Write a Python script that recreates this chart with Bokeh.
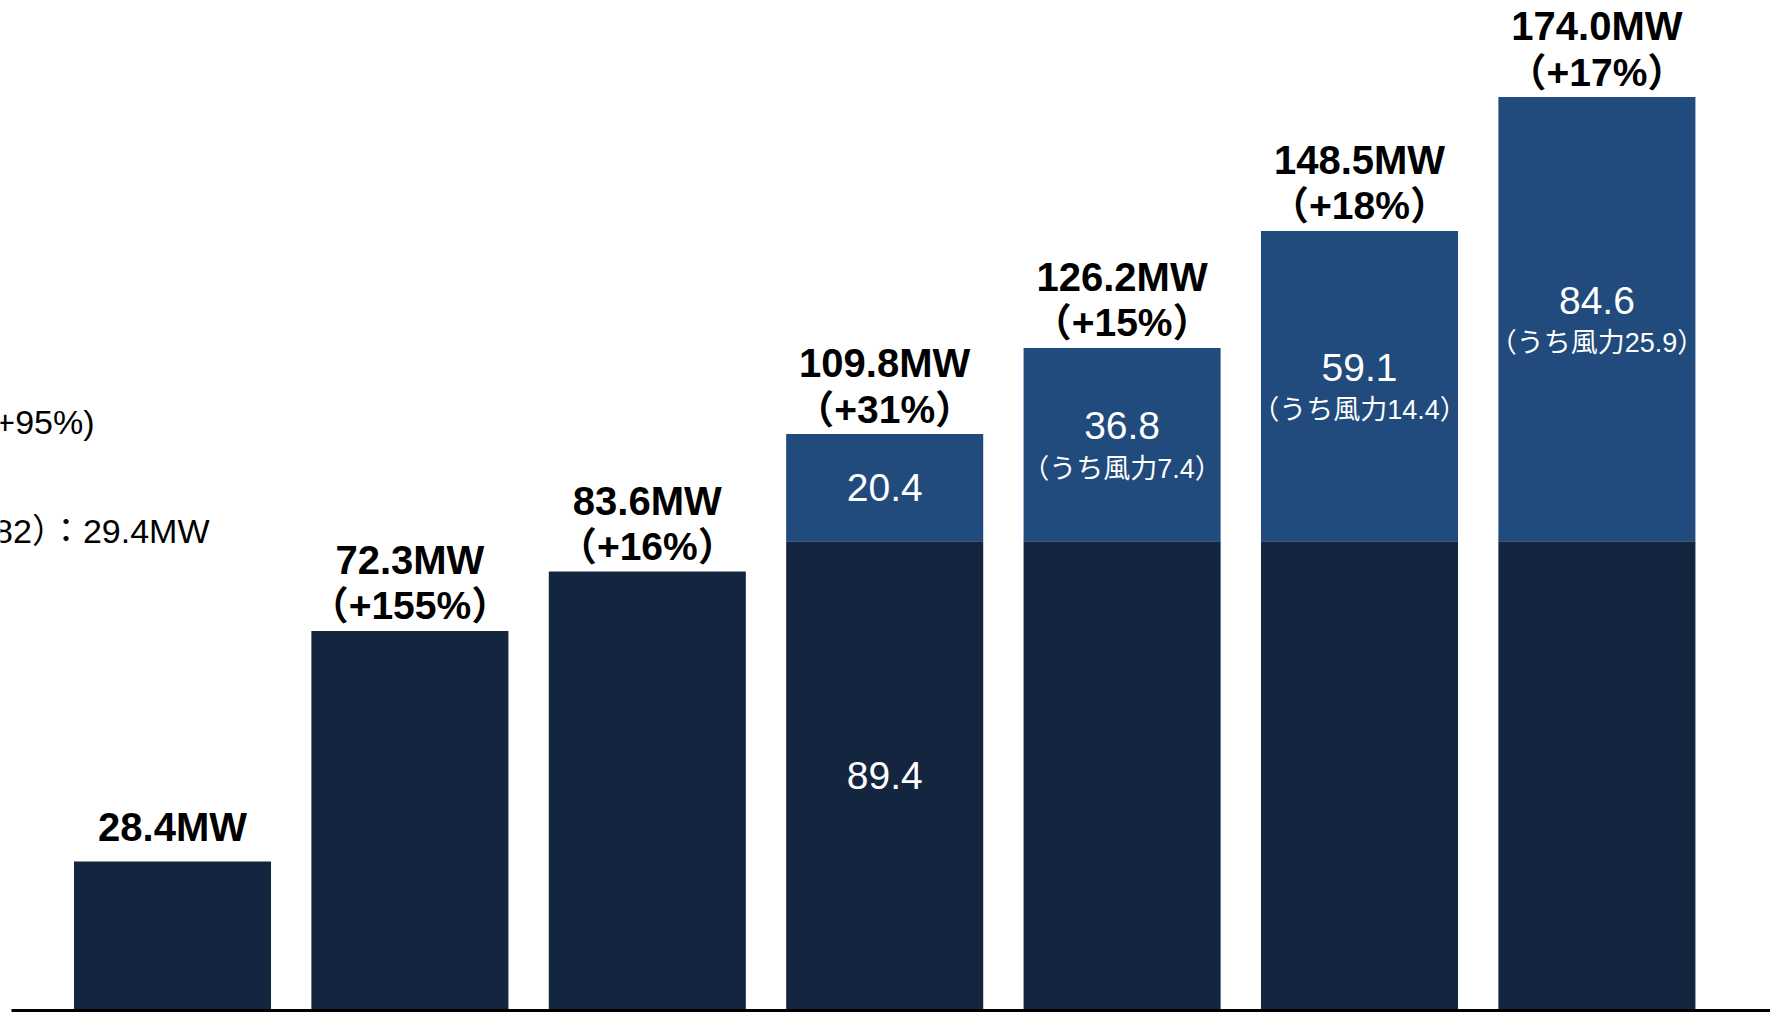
from bokeh.plotting import figure
from bokeh.models import Range1d, Label
from bokeh.core.properties import value
from bokeh.embed import file_html
from bokeh.resources import INLINE

# ---------------- data ----------------
categories = ["1", "2", "3", "4", "5", "6", "7"]
base_mw = [28.4, 72.3, 83.6, 89.4, 89.4, 89.4, 89.4]
added_mw = [0.0, 0.0, 0.0, 20.4, 36.8, 59.1, 84.6]
wind_mw = [None, None, None, None, 7.4, 14.4, 25.9]
growth_pct = [None, 155, 16, 31, 15, 18, 17]
prev_growth_text = "+95%)"
prev_total_text = "82）：29.4MW"

# ---------------- layout ----------------
W, H = 1770, 1012
px_per_cat = 237.4
first_center_px = 172.0
baseline_px = 1010.0
px_per_mw = 5.25
bar_width = 0.83

DARK = "#13253F"
BLUE = "#214A7D"
FONT = "'Liberation Sans', 'Noto Sans CJK JP'"

x_start = -first_center_px / px_per_cat
x_end = (W - first_center_px) / px_per_cat
y_start = -(H - baseline_px) / px_per_mw
y_end = baseline_px / px_per_mw

p = figure(width=W, height=H, x_range=Range1d(x_start, x_end), y_range=Range1d(y_start, y_end),
           output_backend="svg", toolbar_location=None, min_border=0,
           x_axis_location=None, y_axis_location=None)
p.grid.visible = False
p.outline_line_color = None
p.background_fill_color = "white"
p.border_fill_color = "white"

xs = list(range(len(categories)))
totals = [b + a for b, a in zip(base_mw, added_mw)]

p.vbar(x=xs, bottom=0, top=base_mw, width=bar_width, fill_color=DARK, line_color=None)
sx = [x for x, a in zip(xs, added_mw) if a > 0]
sb = [b for b, a in zip(base_mw, added_mw) if a > 0]
st = [b + a for b, a in zip(base_mw, added_mw) if a > 0]
p.vbar(x=sx, bottom=sb, top=st, width=bar_width, fill_color=BLUE, line_color=None)

# baseline
p.segment(x0=[x_start + 11 / px_per_cat], y0=[0], x1=[x_end], y1=[0], line_color="black", line_width=3)

# total labels
two = [i for i, g in enumerate(growth_pct) if g is not None]
one = [i for i, g in enumerate(growth_pct) if g is None]
p.text(x=[xs[i] for i in one], y=[totals[i] for i in one], text=[f"{totals[i]:.1f}MW" for i in one],
       text_font=value(FONT), text_font_style="bold", text_font_size="40px", text_color="black",
       text_align="center", text_baseline="middle", y_offset=-34)
p.text(x=[xs[i] for i in two], y=[totals[i] for i in two], text=[f"{totals[i]:.1f}MW" for i in two],
       text_font=value(FONT), text_font_style="bold", text_font_size="40px", text_color="black",
       text_align="center", text_baseline="middle", y_offset=-71)
p.text(x=[xs[i] for i in two], y=[totals[i] for i in two], text=[f"（+{growth_pct[i]}%）" for i in two],
       text_font=value(FONT), text_font_style="bold", text_font_size="39px", text_color="black",
       text_align="center", text_baseline="middle", y_offset=-25)

# inner labels
mid_added = [b + a / 2 for b, a in zip(base_mw, added_mw)]
nw = [i for i in xs if added_mw[i] > 0 and wind_mw[i] is None]
ww = [i for i in xs if added_mw[i] > 0 and wind_mw[i] is not None]
p.text(x=[xs[i] for i in nw], y=[mid_added[i] for i in nw], text=[f"{added_mw[i]:.1f}" for i in nw],
       text_font=value(FONT), text_font_size="39px", text_color="white",
       text_align="center", text_baseline="middle")
p.text(x=[xs[i] for i in nw], y=[base_mw[i] / 2 for i in nw], text=[f"{base_mw[i]:.1f}" for i in nw],
       text_font=value(FONT), text_font_size="39px", text_color="white",
       text_align="center", text_baseline="middle")
p.text(x=[xs[i] for i in ww], y=[mid_added[i] for i in ww], text=[f"{added_mw[i]:.1f}" for i in ww],
       text_font=value(FONT), text_font_size="39px", text_color="white",
       text_align="center", text_baseline="middle", y_offset=-19)
p.text(x=[xs[i] for i in ww], y=[mid_added[i] for i in ww], text=[f"（うち風力{wind_mw[i]}）" for i in ww],
       text_font=value(FONT), text_font_size="27px", text_color="white",
       text_align="center", text_baseline="middle", y_offset=24)

# clipped notes from the previous period (left edge)
p.add_layout(Label(x=x_start + 94 / px_per_cat, y=(baseline_px - 421) / px_per_mw, text=prev_growth_text,
                   text_font=FONT, text_font_size="34px", text_color="black",
                   text_align="right", text_baseline="middle"))
p.add_layout(Label(x=x_start + 209 / px_per_cat, y=(baseline_px - 530) / px_per_mw, text=prev_total_text,
                   text_font=FONT, text_font_size="34px", text_color="black",
                   text_align="right", text_baseline="middle"))

open("out.html", "w").write(file_html(p, INLINE))
